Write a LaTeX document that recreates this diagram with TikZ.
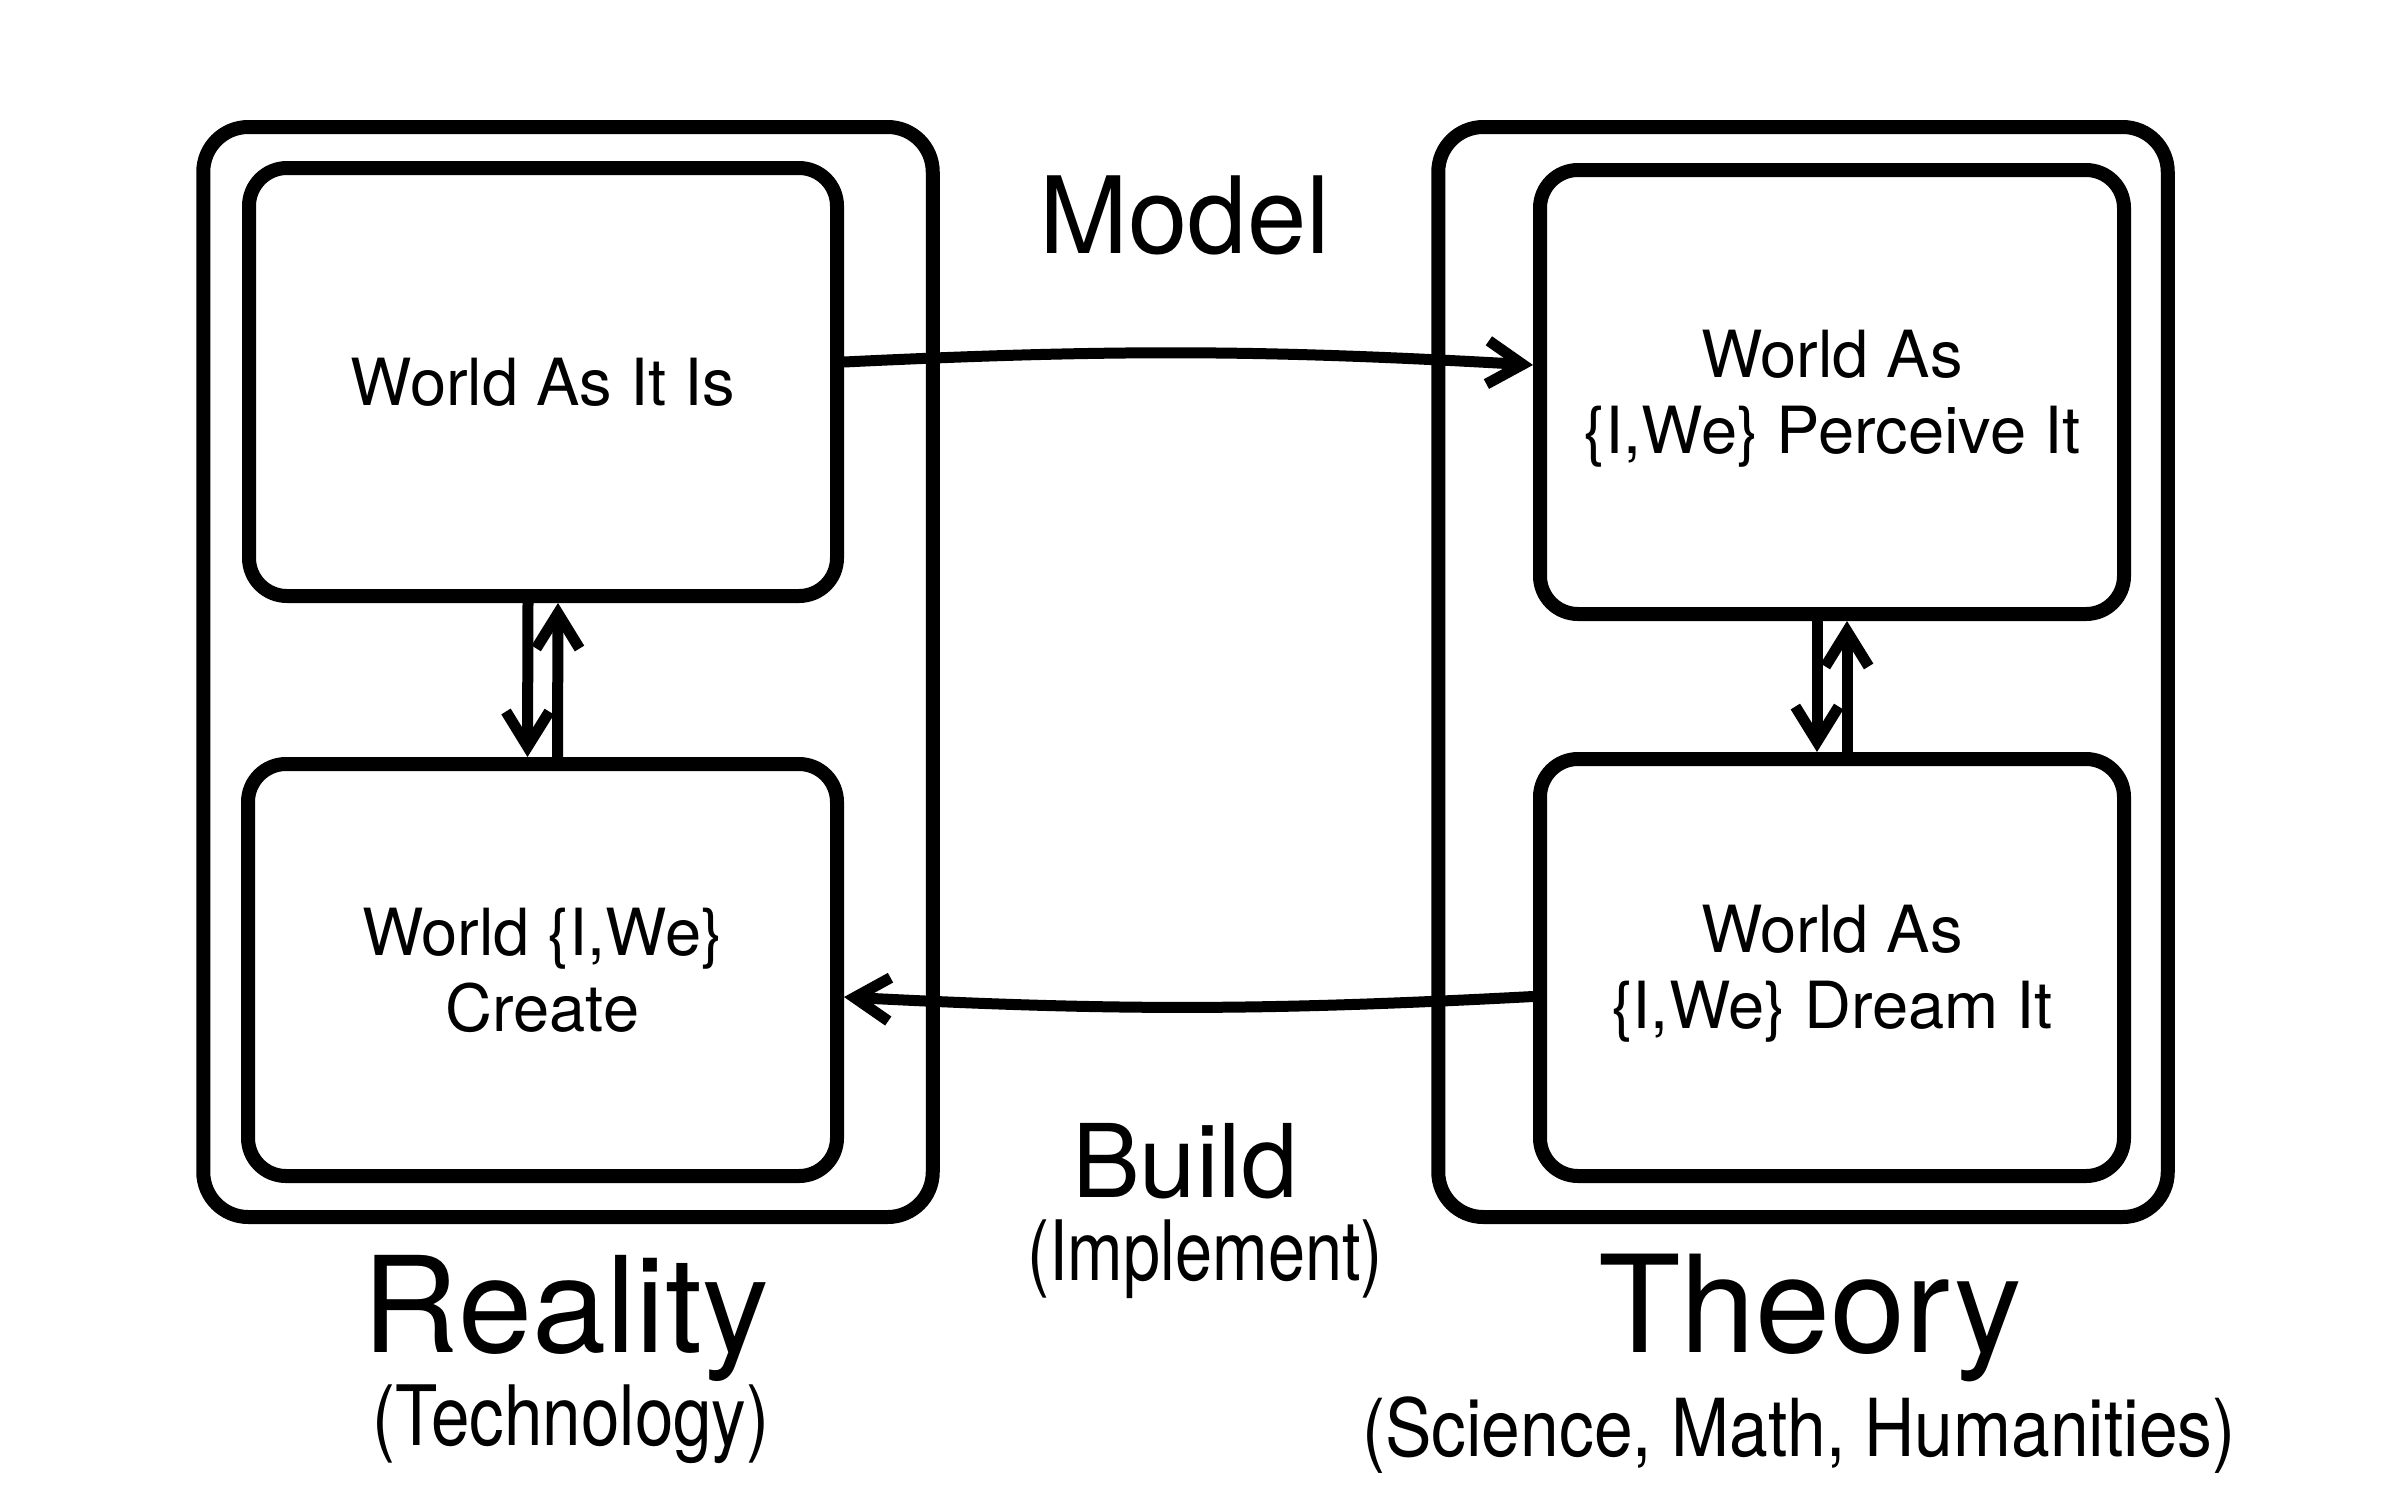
\documentclass[tikz,border=0pt]{standalone}
\usepackage{fontspec}
\usepackage{graphicx}
\setmainfont{TeX Gyre Heros}
\usetikzlibrary{arrows.meta}
\newcommand{\boxfont}{\fontsize{19.5pt}{22.8pt}\selectfont}
\begin{document}
\begin{tikzpicture}[x=0.3pt,y=-0.3pt,
  frame/.style={draw, line width=4.2pt, rounded corners=13.5pt,
    minimum width=218.85pt, minimum height=327pt, inner sep=0pt},
  worldbox/.style={draw, line width=4.2pt, rounded corners=11.4pt,
    align=center, inner sep=0pt, font=\boxfont,
    text height=14pt, text depth=0pt},
  twolines/.style={text height=36.8pt},
  link/.style={line width=3.3pt, line join=round,
    -{Straight Barb[length=10.5pt,width=13pt,line join=miter]}},
  caption/.style={anchor=base, inner sep=0pt}
]
\fill[white] (0,0) rectangle (2406,1486);
\useasboundingbox (0,0) rectangle (2406,1486);

% outer frames
\node[frame] (realityframe) at (568,672) {};
\node[frame] (theoryframe) at (1803,672) {};

% the four worlds
\node[worldbox, minimum width=176.4pt, minimum height=128.4pt] (tl) at (543,382) {World As It Is};
\node[worldbox, twolines, minimum width=176.7pt, minimum height=123.6pt] (bl) at (542.5,970) {World \{I,We\}\\Create};
\node[worldbox, twolines, minimum width=175.2pt, minimum height=133.2pt] (tr) at (1832,392) {World As\\\{I,We\} Perceive It};
\node[worldbox, twolines, minimum width=175.2pt, minimum height=125.1pt] (br) at (1832,967.5) {World As\\\{I,We\} Dream It};

% model and build arrows
\draw[link] ([yshift=6pt]tl.east) to[bend left=3] ([yshift=8.1pt]tr.west);
\draw[link] ([yshift=-8.7pt]br.west) to[bend left=3] ([yshift=-8.1pt]bl.east);

% vertical pairs inside each frame
\draw[link] ([xshift=-4.5pt]tl.south) -- ([xshift=-4.5pt]bl.north);
\draw[link] ([xshift=4.5pt]bl.north) -- ([xshift=4.5pt]tl.south);
\draw[link] ([xshift=-4.5pt]tr.south) -- ([xshift=-4.5pt]br.north);
\draw[link] ([xshift=4.5pt]br.north) -- ([xshift=4.5pt]tr.south);

% captions
\node[caption, font=\fontsize{32pt}{36pt}\selectfont] (model) at (1185,253) {Model};
\node[caption, font=\fontsize{30.5pt}{34pt}\selectfont] (build) at (1185,1197) {Build};
\node[caption, font=\fontsize{25pt}{28pt}\selectfont] (implement) at (1205,1280) {\scalebox{0.8}[1]{(Implement)}};
\node[caption, font=\fontsize{40pt}{44pt}\selectfont] (reality) at (566,1352) {Reality};
\node[caption, font=\fontsize{25pt}{28pt}\selectfont] (technology) at (571,1445) {\scalebox{0.83}[1]{(Technology)}};
\node[caption, font=\fontsize{40.5pt}{44pt}\selectfont] (theory) at (1810,1352) {Theory};
\node[caption, font=\fontsize{24pt}{28pt}\selectfont] (science) at (1799,1456) {\scalebox{0.87}[1]{(Science, Math, Humanities)}};
\end{tikzpicture}
\end{document}
